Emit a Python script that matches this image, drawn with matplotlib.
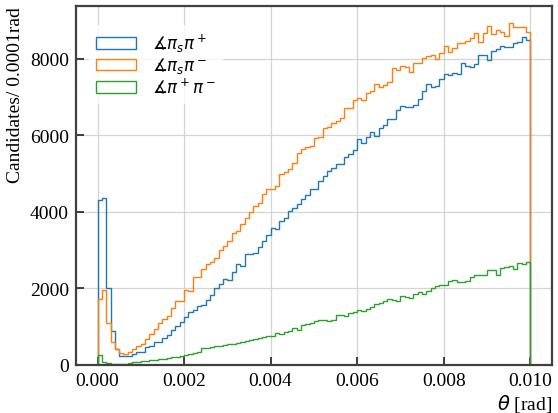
import numpy as np
import matplotlib
matplotlib.use('Agg')
import matplotlib.pyplot as plt

# 100 bins of 0.0001 rad between 0 and 0.01 rad
edges = np.linspace(0, 0.01, 101)
centres = 0.5*(edges[1:] + edges[:-1])

pis_piplus = [4300, 4350, 2000, 895, 420, 226, 226, 243, 287, 347,
              350, 460, 504, 590, 608, 695, 790, 920, 1008, 1112,
              1242, 1373, 1433, 1546, 1563, 1703, 1830, 2007, 2128, 2259,
              2230, 2432, 2632, 2590, 2893, 2893, 2937, 3075, 3240, 3396,
              3587, 3550, 3761, 3830, 4022, 4108, 4196, 4326, 4438, 4587,
              4604, 4804, 4934, 5064, 5150, 5256, 5240, 5430, 5515, 5603,
              5915, 5800, 5958, 6080, 5975, 6194, 6280, 6437, 6430, 6671,
              6758, 6740, 6750, 6801, 6950, 7150, 7341, 7262, 7290, 7471,
              7602, 7567, 7628, 7610, 7888, 7818, 7784, 7870, 8086, 8086,
              7958, 8190, 8250, 8339, 8305, 8295, 8410, 8436, 8566, 8496]

pis_piminus = [1720, 1963, 1086, 608, 417, 304, 287, 330, 417, 504,
               547, 678, 808, 938, 1095, 1199, 1268, 1477, 1676, 1676,
               1963, 1940, 2311, 2290, 2502, 2632, 2700, 2806, 2997, 3110,
               3240, 3458, 3510, 3674, 3848, 3995, 4151, 4220, 4456, 4604,
               4604, 4673, 4977, 5030, 5125, 5264, 5543, 5647, 5690, 5710,
               5933, 5950, 6194, 6211, 6324, 6380, 6455, 6715, 6715, 6932,
               6975, 6910, 7106, 7150, 7341, 7263, 7320, 7384, 7758, 7715,
               7802, 7785, 7645, 7888, 7888, 8018, 8060, 8105, 7993, 8149,
               8339, 8165, 8279, 8410, 8410, 8470, 8540, 8670, 8436, 8670,
               8843, 8650, 8740, 8700, 8583, 8930, 8826, 8826, 8826, 8696]

piplus_piminus = [261, 87, 43, 26, 20, 20, 35, 50, 65, 80,
                  95, 105, 120, 135, 150, 165, 180, 200, 215, 240,
                  265, 290, 310, 330, 455, 445, 460, 485, 500, 520,
                  545, 560, 580, 590, 635, 650, 680, 700, 730, 745,
                  765, 825, 800, 850, 895, 955, 920, 1040, 1060, 1085,
                  1155, 1181, 1181, 1155, 1170, 1303, 1303, 1280, 1355, 1390,
                  1442, 1410, 1460, 1503, 1590, 1630, 1660, 1720, 1700, 1680,
                  1806, 1780, 1760, 1850, 1910, 1850, 1937, 1999, 2066, 2080,
                  2080, 2197, 2220, 2155, 2180, 2197, 2311, 2340, 2345, 2360,
                  2484, 2480, 2345, 2546, 2560, 2588, 2500, 2658, 2650, 2692]

plt.rcParams['font.family'] = 'serif'
plt.rcParams['font.serif'] = ['Liberation Serif']
plt.rcParams['mathtext.fontset'] = 'dejavusans'

fig, ax = plt.subplots(figsize=(5.58, 4.14), dpi=100)
fig.subplots_adjust(left=0.136, right=0.989, top=0.983, bottom=0.116)

ax.hist(centres, bins=edges, weights=pis_piplus, histtype='step',
        linewidth=1.0, label=r'$\measuredangle\pi_s\pi^+$')
ax.hist(centres, bins=edges, weights=pis_piminus, histtype='step',
        linewidth=1.0, label=r'$\measuredangle\pi_s\pi^-$')
ax.hist(centres, bins=edges, weights=piplus_piminus, histtype='step',
        linewidth=1.0, label=r'$\measuredangle\pi^+\pi^-$')

ax.set_xticks([0, 0.002, 0.004, 0.006, 0.008, 0.010])
ax.set_xticklabels(['0.000', '0.002', '0.004', '0.006', '0.008', '0.010'])
ax.grid(color='#d4d4d4', linewidth=0.9)
ax.set_axisbelow(True)

for side in ax.spines.values():
    side.set_color('#404040')
    side.set_linewidth(1.6)
ax.tick_params(direction='in', length=6, width=1.2, color='#202020',
               labelsize=14, pad=5)

ax.set_ylabel('Candidates/ 0.0001rad', fontsize=14, loc='top', labelpad=4)
ax.set_xlabel(r'$\theta$ [rad]', fontsize=14, loc='right', labelpad=2)

ax.legend(loc='upper left', bbox_to_anchor=(0.01, 0.97), fontsize=12,
          frameon=True, edgecolor='none', framealpha=0.8,
          handlelength=2.4, handletextpad=1.0, labelspacing=0.08)

fig.savefig('out.png', dpi=100)
